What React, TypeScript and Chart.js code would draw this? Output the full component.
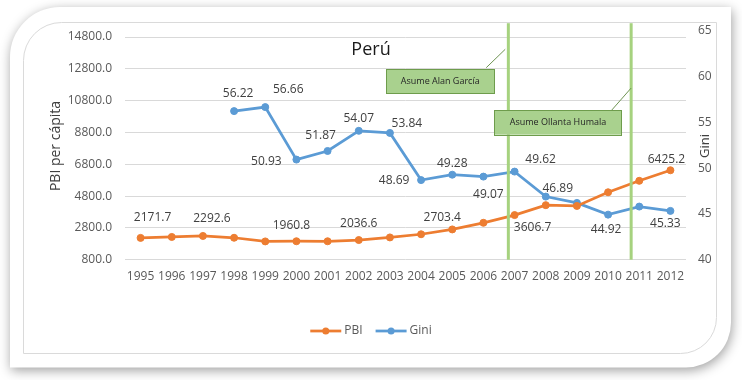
import { useEffect, useRef } from 'react';
import { Chart, registerables } from 'chart.js';

Chart.register(...registerables);

// ---------- data ----------
const years = ['1995', '1996', '1997', '1998', '1999', '2000', '2001', '2002', '2003', '2004', '2005', '2006', '2007', '2008', '2009', '2010', '2011', '2012'];
const pbiValues = [2171.7, 2230, 2292.6, 2180, 1950, 1960.8, 1960, 2036.6, 2200, 2400, 2703.4, 3120, 3606.7, 4230, 4180, 5040, 5760, 6425.2];
const giniValues = [null, null, null, 56.22, 56.66, 50.93, 51.87, 54.07, 53.84, 48.69, 49.28, 49.07, 49.62, 46.89, 46.2, 44.92, 45.8, 45.33];
const leftTicks = [800, 2800, 4800, 6800, 8800, 10800, 12800, 14800];
const rightTicks = [40, 45, 50, 55, 60, 65];
const pbiLabelYears = ['1995', '1997', '2000', '2002', '2005', '2007', '2012'];
const giniLabelYears = ['1998', '1999', '2000', '2001', '2002', '2003', '2004', '2005', '2006', '2007', '2008', '2010', '2012'];
const chartTitle = 'Perú';
const leftAxisTitle = 'PBI per cápita';
const rightAxisTitle = 'Gini';
const annotationTexts = ['Asume Alan García', 'Asume Ollanta Humala'];
const presidencyYears = [2006.8, 2010.74];

// ---------- styles / placement ----------
const pbiLabelOffsets = [[12, -20], [9, -17], [-5, -16], [0, -16], [-10, -12], [18, 13], [-4, -11]];
const giniLabelOffsets = [[4, -18], [23, -18], [-30, 2], [-7, -15], [0, -12], [17, -9], [-27, 0], [0, -11], [5, 18], [26, -12], [12, -8], [-2, 15], [-5, 13]];
const annotationBoxes = [
  { x0: 2002.88, x1: 2006.35, y0: 58.17, y1: 60.79, from: [2006.09, 60.96], to: [2006.7, 62.97] },
  { x0: 2006.35, x1: 2010.44, y0: 53.65, y1: 56.34, from: [2010.12, 56.34], to: [2010.74, 58.74] },
];
const ORANGE = '#ED7D31';
const BLUE = '#5B9BD5';
const FONT = '"Open Sans", "Noto Sans", sans-serif';
const TEXT = '#595959';

const decorPlugin = {
  id: 'decor',
  beforeDraw(chart: any) {
    const ctx = chart.ctx;
    ctx.save();
    ctx.fillStyle = '#ffffff';
    ctx.fillRect(0, 0, chart.width, chart.height);
    ctx.shadowColor = 'rgba(0,0,0,0.38)';
    ctx.shadowBlur = 12;
    ctx.shadowOffsetX = 1;
    ctx.shadowOffsetY = 3;
    ctx.fillStyle = '#ffffff';
    ctx.beginPath();
    ctx.roundRect(10, 7, 721, 360.5, [50, 0, 45, 0]);
    ctx.fill();
    ctx.shadowColor = 'transparent';
    ctx.strokeStyle = '#DADADA';
    ctx.lineWidth = 1;
    ctx.beginPath();
    ctx.roundRect(23.5, 22.5, 693, 331, [38, 0, 36, 0]);
    ctx.stroke();
    ctx.restore();
  },
  afterDatasetsDraw(chart: any) {
    const ctx = chart.ctx;
    const xs = chart.scales.x;
    const ys = chart.scales.y1;
    const area = chart.chartArea;
    ctx.save();
    // data labels
    ctx.font = `12px ${FONT}`;
    ctx.fillStyle = '#404040';
    ctx.textAlign = 'center';
    ctx.textBaseline = 'middle';
    const drawLabels = (dsIndex: number, labelYears: string[], offsets: number[][], digits: number, values: any[]) => {
      const meta = chart.getDatasetMeta(dsIndex);
      labelYears.forEach((yr, i) => {
        const idx = years.indexOf(yr);
        const pt = meta.data[idx];
        if (!pt) return;
        ctx.fillText(Number(values[idx]).toFixed(digits), pt.x + offsets[i][0], pt.y + offsets[i][1]);
      });
    };
    drawLabels(0, pbiLabelYears, pbiLabelOffsets, 1, pbiValues);
    drawLabels(1, giniLabelYears, giniLabelOffsets, 2, giniValues);

    // presidency lines
    ctx.strokeStyle = '#A6D27F';
    ctx.lineWidth = 3;
    presidencyYears.forEach((yr) => {
      const x = xs.getPixelForValue(yr - 1995);
      ctx.beginPath();
      ctx.moveTo(x, area.top - 7.5);
      ctx.lineTo(x, area.bottom);
      ctx.stroke();
    });
    // callout boxes
    annotationBoxes.forEach((b, i) => {
      const x0 = xs.getPixelForValue(b.x0 - 1995);
      const x1 = xs.getPixelForValue(b.x1 - 1995);
      const y0 = ys.getPixelForValue(b.y1);
      const y1 = ys.getPixelForValue(b.y0);
      ctx.strokeStyle = '#6F9453';
      ctx.lineWidth = 1;
      ctx.beginPath();
      ctx.moveTo(xs.getPixelForValue(b.from[0] - 1995), ys.getPixelForValue(b.from[1]));
      ctx.lineTo(xs.getPixelForValue(b.to[0] - 1995), ys.getPixelForValue(b.to[1]));
      ctx.stroke();
      ctx.fillStyle = '#A9D18E';
      ctx.fillRect(x0, y0, x1 - x0, y1 - y0);
      ctx.strokeStyle = '#6E9C4C';
      ctx.strokeRect(Math.round(x0) + 0.5, Math.round(y0) + 0.5, Math.round(x1 - x0), Math.round(y1 - y0));
      ctx.fillStyle = '#262626';
      ctx.font = `9px ${FONT}`;
      ctx.textAlign = 'center';
      ctx.textBaseline = 'middle';
      ctx.fillText(annotationTexts[i], (x0 + x1) / 2, (y0 + y1) / 2);
    });
    ctx.restore();
  },
  afterDraw(chart: any) {
    const ctx = chart.ctx;
    ctx.save();
    // title
    ctx.fillStyle = '#1A1A1A';
    ctx.font = `18px ${FONT}`;
    ctx.textAlign = 'center';
    ctx.textBaseline = 'alphabetic';
    ctx.fillText(chartTitle, chart.width / 2, 55);
    // axis titles
    ctx.fillStyle = '#404040';
    ctx.textBaseline = 'middle';
    ctx.font = `14px ${FONT}`;
    ctx.save();
    ctx.translate(56, 146);
    ctx.rotate(-Math.PI / 2);
    ctx.fillText(leftAxisTitle, 0, 0);
    ctx.restore();
    ctx.font = `13px ${FONT}`;
    ctx.save();
    ctx.translate(705, 146);
    ctx.rotate(-Math.PI / 2);
    ctx.fillText(rightAxisTitle, 0, 0);
    ctx.restore();
    // legend
    ctx.font = `12px ${FONT}`;
    const items = chart.data.datasets.map((d: any) => ({ text: d.label, color: d.borderColor }));
    const lineLen = 31, gap = 3, itemGap = 13;
    const widths = items.map((it: any) => lineLen + gap + ctx.measureText(it.text).width);
    const total = widths.reduce((a: number, b: number) => a + b, 0) + itemGap * (items.length - 1);
    let x = chart.width / 2 - total / 2;
    const y = 331;
    items.forEach((it: any, i: number) => {
      ctx.strokeStyle = it.color;
      ctx.lineWidth = 2.75;
      ctx.beginPath();
      ctx.moveTo(x, y);
      ctx.lineTo(x + lineLen, y);
      ctx.stroke();
      ctx.fillStyle = it.color;
      ctx.beginPath();
      ctx.arc(x + lineLen / 2, y, 3.5, 0, Math.PI * 2);
      ctx.fill();
      ctx.fillStyle = TEXT;
      ctx.textAlign = 'left';
      ctx.fillText(it.text, x + lineLen + gap, y);
      x += widths[i] + itemGap;
    });
    ctx.restore();
  },
};

export default function App() {
  const ref = useRef<HTMLCanvasElement | null>(null);
  useEffect(() => {
    if (!ref.current) return;
    const chart = new Chart(ref.current, {
      type: 'line',
      data: {
        labels: years,
        datasets: [
          {
            label: 'PBI',
            data: pbiValues,
            yAxisID: 'y',
            borderColor: ORANGE,
            backgroundColor: ORANGE,
            borderWidth: 2.75,
            pointRadius: 3.5,
            pointBorderWidth: 1,
            pointBackgroundColor: ORANGE,
            tension: 0,
          },
          {
            label: 'Gini',
            data: giniValues,
            yAxisID: 'y1',
            borderColor: BLUE,
            backgroundColor: BLUE,
            borderWidth: 2.75,
            pointRadius: 3.5,
            pointBorderWidth: 1,
            pointBackgroundColor: BLUE,
            tension: 0,
          },
        ],
      },
      options: {
        responsive: false,
        animation: false,
        layout: { padding: { top: 30.7, left: 0, right: 0, bottom: 0 } },
        plugins: { legend: { display: false }, title: { display: false }, tooltip: { enabled: false } },
        scales: {
          x: {
            offset: true,
            grid: { display: false, drawTicks: false, offset: true },
            border: { display: false },
            ticks: { color: TEXT, font: { family: FONT, size: 12 }, padding: 10, autoSkip: false, maxRotation: 0 },
            afterFit: (s: any) => { s.height = 120.3; },
          },
          y: {
            position: 'left',
            min: 800,
            max: 15200,
            grid: { color: '#D9D9D9', drawTicks: false, lineWidth: 1 },
            border: { display: false },
            ticks: { color: TEXT, font: { family: FONT, size: 12 }, padding: 13, callback: (v: any) => Number(v).toFixed(1) },
            afterBuildTicks: (s: any) => { s.ticks = leftTicks.map((v) => ({ value: v })); },
            afterFit: (s: any) => { s.width = 125; },
          },
          y1: {
            position: 'right',
            min: 40,
            max: 65,
            grid: { display: false, drawTicks: false },
            border: { display: false },
            ticks: { color: TEXT, font: { family: FONT, size: 12 }, padding: 12 },
            afterBuildTicks: (s: any) => { s.ticks = rightTicks.map((v) => ({ value: v })); },
            afterFit: (s: any) => { s.width = 56; },
          },
        },
      },
      plugins: [decorPlugin],
    } as any);
    return () => chart.destroy();
  }, []);
  return (
    <div style={{ position: 'absolute', left: 0, top: 0, width: 742, height: 380 }}>
      <canvas ref={ref} width={742} height={380} style={{ display: 'block' }} />
    </div>
  );
}
